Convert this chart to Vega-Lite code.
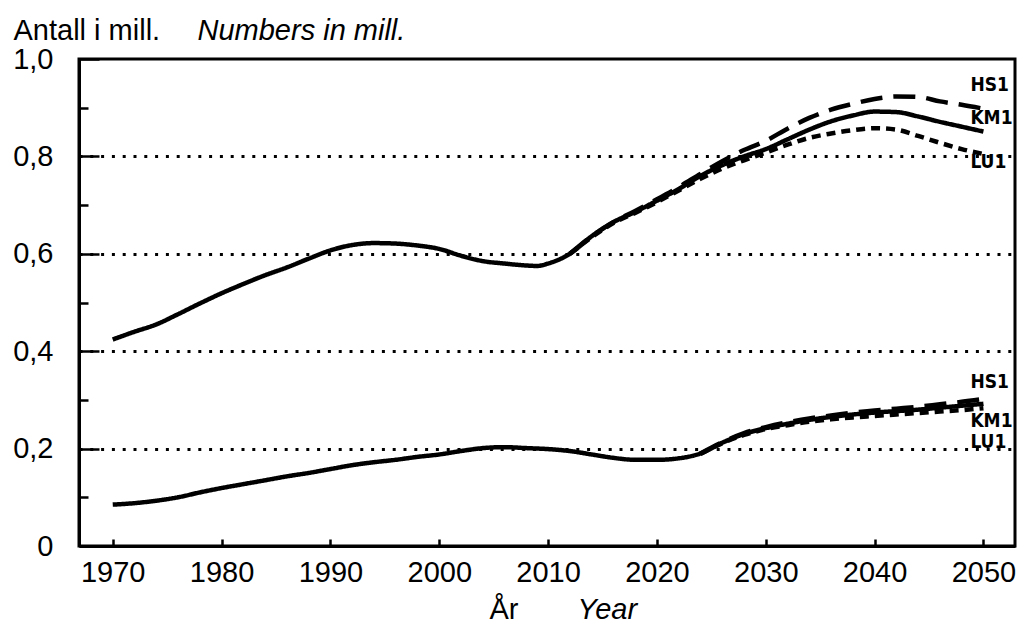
{
  "$schema": "https://vega.github.io/schema/vega-lite/v6.json",
  "width": 936,
  "height": 487,
  "autosize": {"type": "none"},
  "padding": {"left": 79, "top": 59, "right": 11, "bottom": 79},
  "background": "white",
  "config": {
    "view": {"stroke": "black", "strokeWidth": 3},
    "font": "Liberation Sans",
    "axis": {"labelColor": "black", "titleColor": "black", "domainColor": "black", "tickColor": "black", "labelFont": "Liberation Sans", "titleFont": "Liberation Sans"}
  },
  "datasets": {
    "lines": [
      {"group": "top", "series": "KM1", "year": 1970, "value": 0.424},
      {"group": "top", "series": "KM1", "year": 1972, "value": 0.440},
      {"group": "top", "series": "KM1", "year": 1974, "value": 0.455},
      {"group": "top", "series": "KM1", "year": 1976, "value": 0.476},
      {"group": "top", "series": "KM1", "year": 1978, "value": 0.498},
      {"group": "top", "series": "KM1", "year": 1980, "value": 0.519},
      {"group": "top", "series": "KM1", "year": 1982, "value": 0.538},
      {"group": "top", "series": "KM1", "year": 1984, "value": 0.556},
      {"group": "top", "series": "KM1", "year": 1986, "value": 0.572},
      {"group": "top", "series": "KM1", "year": 1988, "value": 0.590},
      {"group": "top", "series": "KM1", "year": 1990, "value": 0.607},
      {"group": "top", "series": "KM1", "year": 1992, "value": 0.618},
      {"group": "top", "series": "KM1", "year": 1994, "value": 0.622},
      {"group": "top", "series": "KM1", "year": 1996, "value": 0.621},
      {"group": "top", "series": "KM1", "year": 1998, "value": 0.617},
      {"group": "top", "series": "KM1", "year": 2000, "value": 0.610},
      {"group": "top", "series": "KM1", "year": 2002, "value": 0.596},
      {"group": "top", "series": "KM1", "year": 2004, "value": 0.585},
      {"group": "top", "series": "KM1", "year": 2006, "value": 0.580},
      {"group": "top", "series": "KM1", "year": 2008, "value": 0.576},
      {"group": "top", "series": "KM1", "year": 2009, "value": 0.575},
      {"group": "top", "series": "KM1", "year": 2010, "value": 0.580},
      {"group": "top", "series": "KM1", "year": 2012, "value": 0.600},
      {"group": "top", "series": "KM1", "year": 2014, "value": 0.636},
      {"group": "top", "series": "KM1", "year": 2016, "value": 0.665},
      {"group": "top", "series": "KM1", "year": 2018, "value": 0.686},
      {"group": "top", "series": "KM1", "year": 2020, "value": 0.709},
      {"group": "top", "series": "KM1", "year": 2022, "value": 0.733},
      {"group": "top", "series": "KM1", "year": 2024, "value": 0.760},
      {"group": "top", "series": "KM1", "year": 2026, "value": 0.782},
      {"group": "top", "series": "KM1", "year": 2028, "value": 0.800},
      {"group": "top", "series": "KM1", "year": 2030, "value": 0.815},
      {"group": "top", "series": "KM1", "year": 2032, "value": 0.835},
      {"group": "top", "series": "KM1", "year": 2034, "value": 0.855},
      {"group": "top", "series": "KM1", "year": 2036, "value": 0.872},
      {"group": "top", "series": "KM1", "year": 2038, "value": 0.884},
      {"group": "top", "series": "KM1", "year": 2040, "value": 0.892},
      {"group": "top", "series": "KM1", "year": 2042, "value": 0.891},
      {"group": "top", "series": "KM1", "year": 2044, "value": 0.882},
      {"group": "top", "series": "KM1", "year": 2046, "value": 0.871},
      {"group": "top", "series": "KM1", "year": 2048, "value": 0.861},
      {"group": "top", "series": "KM1", "year": 2050, "value": 0.851},

      {"group": "top", "series": "HS1", "year": 2012, "value": 0.600},
      {"group": "top", "series": "HS1", "year": 2014, "value": 0.636},
      {"group": "top", "series": "HS1", "year": 2016, "value": 0.665},
      {"group": "top", "series": "HS1", "year": 2018, "value": 0.688},
      {"group": "top", "series": "HS1", "year": 2020, "value": 0.712},
      {"group": "top", "series": "HS1", "year": 2022, "value": 0.737},
      {"group": "top", "series": "HS1", "year": 2024, "value": 0.764},
      {"group": "top", "series": "HS1", "year": 2026, "value": 0.790},
      {"group": "top", "series": "HS1", "year": 2028, "value": 0.813},
      {"group": "top", "series": "HS1", "year": 2030, "value": 0.832},
      {"group": "top", "series": "HS1", "year": 2032, "value": 0.857},
      {"group": "top", "series": "HS1", "year": 2034, "value": 0.879},
      {"group": "top", "series": "HS1", "year": 2036, "value": 0.896},
      {"group": "top", "series": "HS1", "year": 2038, "value": 0.908},
      {"group": "top", "series": "HS1", "year": 2040, "value": 0.918},
      {"group": "top", "series": "HS1", "year": 2042, "value": 0.923},
      {"group": "top", "series": "HS1", "year": 2044, "value": 0.922},
      {"group": "top", "series": "HS1", "year": 2046, "value": 0.913},
      {"group": "top", "series": "HS1", "year": 2048, "value": 0.906},
      {"group": "top", "series": "HS1", "year": 2050, "value": 0.898},

      {"group": "top", "series": "LU1", "year": 2012, "value": 0.600},
      {"group": "top", "series": "LU1", "year": 2014, "value": 0.634},
      {"group": "top", "series": "LU1", "year": 2016, "value": 0.663},
      {"group": "top", "series": "LU1", "year": 2018, "value": 0.684},
      {"group": "top", "series": "LU1", "year": 2020, "value": 0.706},
      {"group": "top", "series": "LU1", "year": 2022, "value": 0.730},
      {"group": "top", "series": "LU1", "year": 2024, "value": 0.754},
      {"group": "top", "series": "LU1", "year": 2026, "value": 0.775},
      {"group": "top", "series": "LU1", "year": 2028, "value": 0.792},
      {"group": "top", "series": "LU1", "year": 2030, "value": 0.808},
      {"group": "top", "series": "LU1", "year": 2032, "value": 0.824},
      {"group": "top", "series": "LU1", "year": 2034, "value": 0.838},
      {"group": "top", "series": "LU1", "year": 2036, "value": 0.847},
      {"group": "top", "series": "LU1", "year": 2038, "value": 0.854},
      {"group": "top", "series": "LU1", "year": 2040, "value": 0.858},
      {"group": "top", "series": "LU1", "year": 2042, "value": 0.855},
      {"group": "top", "series": "LU1", "year": 2044, "value": 0.842},
      {"group": "top", "series": "LU1", "year": 2046, "value": 0.828},
      {"group": "top", "series": "LU1", "year": 2048, "value": 0.815},
      {"group": "top", "series": "LU1", "year": 2050, "value": 0.805},

      {"group": "bottom", "series": "KM1", "year": 1970, "value": 0.085},
      {"group": "bottom", "series": "KM1", "year": 1972, "value": 0.088},
      {"group": "bottom", "series": "KM1", "year": 1974, "value": 0.093},
      {"group": "bottom", "series": "KM1", "year": 1976, "value": 0.100},
      {"group": "bottom", "series": "KM1", "year": 1978, "value": 0.110},
      {"group": "bottom", "series": "KM1", "year": 1980, "value": 0.119},
      {"group": "bottom", "series": "KM1", "year": 1982, "value": 0.127},
      {"group": "bottom", "series": "KM1", "year": 1984, "value": 0.135},
      {"group": "bottom", "series": "KM1", "year": 1986, "value": 0.143},
      {"group": "bottom", "series": "KM1", "year": 1988, "value": 0.150},
      {"group": "bottom", "series": "KM1", "year": 1990, "value": 0.158},
      {"group": "bottom", "series": "KM1", "year": 1992, "value": 0.166},
      {"group": "bottom", "series": "KM1", "year": 1994, "value": 0.172},
      {"group": "bottom", "series": "KM1", "year": 1996, "value": 0.177},
      {"group": "bottom", "series": "KM1", "year": 1998, "value": 0.183},
      {"group": "bottom", "series": "KM1", "year": 2000, "value": 0.188},
      {"group": "bottom", "series": "KM1", "year": 2002, "value": 0.195},
      {"group": "bottom", "series": "KM1", "year": 2004, "value": 0.201},
      {"group": "bottom", "series": "KM1", "year": 2006, "value": 0.203},
      {"group": "bottom", "series": "KM1", "year": 2008, "value": 0.201},
      {"group": "bottom", "series": "KM1", "year": 2010, "value": 0.199},
      {"group": "bottom", "series": "KM1", "year": 2012, "value": 0.195},
      {"group": "bottom", "series": "KM1", "year": 2014, "value": 0.188},
      {"group": "bottom", "series": "KM1", "year": 2016, "value": 0.181},
      {"group": "bottom", "series": "KM1", "year": 2018, "value": 0.177},
      {"group": "bottom", "series": "KM1", "year": 2020, "value": 0.177},
      {"group": "bottom", "series": "KM1", "year": 2022, "value": 0.180},
      {"group": "bottom", "series": "KM1", "year": 2024, "value": 0.190},
      {"group": "bottom", "series": "KM1", "year": 2026, "value": 0.212},
      {"group": "bottom", "series": "KM1", "year": 2028, "value": 0.230},
      {"group": "bottom", "series": "KM1", "year": 2030, "value": 0.242},
      {"group": "bottom", "series": "KM1", "year": 2032, "value": 0.251},
      {"group": "bottom", "series": "KM1", "year": 2034, "value": 0.259},
      {"group": "bottom", "series": "KM1", "year": 2036, "value": 0.265},
      {"group": "bottom", "series": "KM1", "year": 2038, "value": 0.270},
      {"group": "bottom", "series": "KM1", "year": 2040, "value": 0.274},
      {"group": "bottom", "series": "KM1", "year": 2042, "value": 0.277},
      {"group": "bottom", "series": "KM1", "year": 2044, "value": 0.280},
      {"group": "bottom", "series": "KM1", "year": 2046, "value": 0.284},
      {"group": "bottom", "series": "KM1", "year": 2048, "value": 0.288},
      {"group": "bottom", "series": "KM1", "year": 2050, "value": 0.292},

      {"group": "bottom", "series": "HS1", "year": 2024, "value": 0.190},
      {"group": "bottom", "series": "HS1", "year": 2026, "value": 0.213},
      {"group": "bottom", "series": "HS1", "year": 2028, "value": 0.232},
      {"group": "bottom", "series": "HS1", "year": 2030, "value": 0.244},
      {"group": "bottom", "series": "HS1", "year": 2032, "value": 0.254},
      {"group": "bottom", "series": "HS1", "year": 2034, "value": 0.262},
      {"group": "bottom", "series": "HS1", "year": 2036, "value": 0.268},
      {"group": "bottom", "series": "HS1", "year": 2038, "value": 0.274},
      {"group": "bottom", "series": "HS1", "year": 2040, "value": 0.278},
      {"group": "bottom", "series": "HS1", "year": 2042, "value": 0.282},
      {"group": "bottom", "series": "HS1", "year": 2044, "value": 0.286},
      {"group": "bottom", "series": "HS1", "year": 2046, "value": 0.291},
      {"group": "bottom", "series": "HS1", "year": 2048, "value": 0.296},
      {"group": "bottom", "series": "HS1", "year": 2050, "value": 0.302},

      {"group": "bottom", "series": "LU1", "year": 2024, "value": 0.189},
      {"group": "bottom", "series": "LU1", "year": 2026, "value": 0.211},
      {"group": "bottom", "series": "LU1", "year": 2028, "value": 0.228},
      {"group": "bottom", "series": "LU1", "year": 2030, "value": 0.240},
      {"group": "bottom", "series": "LU1", "year": 2032, "value": 0.248},
      {"group": "bottom", "series": "LU1", "year": 2034, "value": 0.255},
      {"group": "bottom", "series": "LU1", "year": 2036, "value": 0.260},
      {"group": "bottom", "series": "LU1", "year": 2038, "value": 0.264},
      {"group": "bottom", "series": "LU1", "year": 2040, "value": 0.267},
      {"group": "bottom", "series": "LU1", "year": 2042, "value": 0.270},
      {"group": "bottom", "series": "LU1", "year": 2044, "value": 0.273},
      {"group": "bottom", "series": "LU1", "year": 2046, "value": 0.276},
      {"group": "bottom", "series": "LU1", "year": 2048, "value": 0.279},
      {"group": "bottom", "series": "LU1", "year": 2050, "value": 0.283}
    ],
    "labels": [
      {"group": "top", "series": "HS1", "year": 2048.8, "value": 0.947},
      {"group": "top", "series": "KM1", "year": 2048.8, "value": 0.879},
      {"group": "top", "series": "LU1", "year": 2048.8, "value": 0.788},
      {"group": "bottom", "series": "HS1", "year": 2048.8, "value": 0.336},
      {"group": "bottom", "series": "KM1", "year": 2048.8, "value": 0.256},
      {"group": "bottom", "series": "LU1", "year": 2048.8, "value": 0.214}
    ]
  },
  "layer": [
    {
      "data": {"name": "lines"},
      "mark": {"type": "line", "interpolate": "monotone", "strokeWidth": 4.5, "color": "black"},
      "encoding": {
        "x": {
          "field": "year", "type": "quantitative",
          "scale": {"domain": [1966.9, 2052.9], "nice": false, "zero": false},
          "axis": {
            "orient": "bottom",
            "values": [1970, 1980, 1990, 2000, 2010, 2020, 2030, 2040, 2050],
            "format": "d",
            "grid": false,
            "domainWidth": 3,
            "tickSize": -7,
            "tickWidth": 2.5,
            "labelFontSize": 29,
            "labelPadding": 19,
            "labelFlush": false,
            "title": "År",
            "titleFontSize": 29,
            "titleFontWeight": "normal",
            "titleAlign": "left",
            "titleBaseline": "alphabetic",
            "titleX": 410,
            "titleY": 72
          }
        },
        "y": {
          "field": "value", "type": "quantitative",
          "scale": {"domain": [0, 1], "nice": false},
          "axis": {
            "orient": "left",
            "values": [0, 0.2, 0.4, 0.6, 0.8, 1.0],
            "labelExpr": "datum.value == 0 ? '0' : replace(format(datum.value, '.1f'), '.', ',')",
            "domainWidth": 3,
            "tickWidth": 2.5,
            "tickSize": -20,
            "labelFontSize": 29,
            "labelPadding": 46,
            "labelFlush": false,
            "grid": true,
            "gridColor": "black",
            "gridWidth": 3,
            "gridDash": [3, 7.8],
            "gridOpacity": {"condition": {"test": "datum.value > 0.05 && datum.value < 0.95", "value": 1}, "value": 0},
            "title": "Antall i mill.",
            "titleFontSize": 29,
            "titleFontWeight": "normal",
            "titleAngle": 0,
            "titleAlign": "left",
            "titleBaseline": "alphabetic",
            "titleX": -66,
            "titleY": -20
          }
        },
        "strokeDash": {
          "field": "series", "type": "nominal",
          "scale": {"domain": ["KM1", "HS1", "LU1"], "range": [[1, 0], [22, 11], [9, 6]]},
          "legend": null
        },
        "detail": {"field": "group"}
      }
    },
    {
      "data": {"name": "labels"},
      "mark": {"type": "text", "align": "left", "baseline": "middle", "font": "Liberation Sans Narrow, DejaVu Sans Condensed, sans-serif", "fontSize": 19, "fontWeight": "bold", "color": "black"},
      "encoding": {
        "x": {
          "field": "year", "type": "quantitative",
          "scale": {"domain": [1966.9, 2052.9], "nice": false, "zero": false},
          "axis": {
            "orient": "bottom", "labels": false, "ticks": false, "domain": false, "grid": false,
            "title": "Year", "titleFontSize": 29, "titleFontWeight": "normal", "titleFontStyle": "italic",
            "titleAlign": "left", "titleBaseline": "alphabetic", "titleX": 498, "titleY": 72
          }
        },
        "y": {
          "field": "value", "type": "quantitative",
          "scale": {"domain": [0, 1], "nice": false},
          "axis": {
            "orient": "left", "labels": false, "domain": false, "grid": false,
            "values": [0.1, 0.3, 0.5, 0.7, 0.9],
            "ticks": true, "tickSize": -9, "tickWidth": 2.5,
            "title": "Numbers in mill.", "titleFontSize": 29, "titleFontWeight": "normal", "titleFontStyle": "italic",
            "titleAngle": 0, "titleAlign": "left", "titleBaseline": "alphabetic", "titleX": 118, "titleY": -20
          }
        },
        "text": {"field": "series"}
      }
    }
  ],
  "resolve": {"axis": {"x": "independent", "y": "independent"}}
}
